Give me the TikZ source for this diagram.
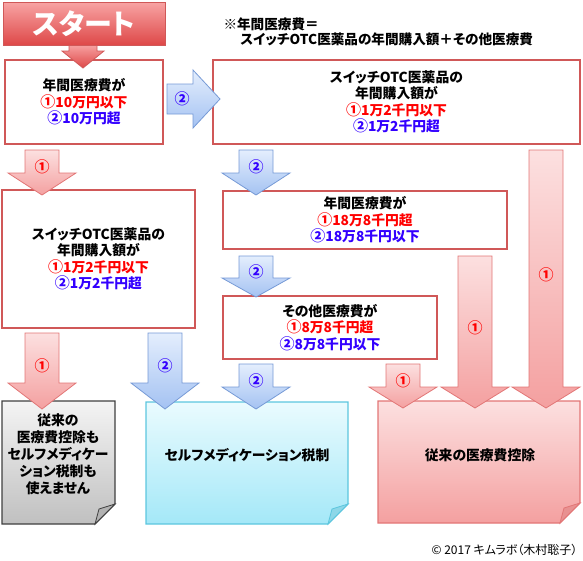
\documentclass[tikz,border=0pt]{standalone}
\usepackage{fontspec}
\setmainfont{Noto Sans CJK JP}[RawFeature=+palt]
\usepackage{tikz}
\usepackage{xcolor}
\definecolor{boxred}{RGB}{208,88,88}
\definecolor{txtred}{RGB}{255,0,0}
\definecolor{txtblue}{RGB}{51,0,255}
\definecolor{pinktop}{RGB}{252,224,224}
\definecolor{pinkbot}{RGB}{244,160,160}
\definecolor{pinkline}{RGB}{226,118,118}
\definecolor{bluetop}{RGB}{228,238,253}
\definecolor{bluebot}{RGB}{164,194,242}
\definecolor{blueline}{RGB}{118,154,214}
\definecolor{starttop}{RGB}{248,164,164}
\definecolor{startbot}{RGB}{222,72,72}
\definecolor{cyantop}{RGB}{234,251,254}
\definecolor{cyanbot}{RGB}{164,232,248}
\definecolor{cyanline}{RGB}{92,198,222}
\definecolor{greytop}{RGB}{244,244,244}
\definecolor{greybot}{RGB}{192,192,192}
\tikzset{%
    qbox/.style={%
        draw=boxred, line width=1.6pt, fill=white, align=center,
        font=\fontsize{13.8}{16.5}\selectfont\bfseries
    },
    pinkarr/.style={draw=pinkline, line width=0.8pt, top color=pinktop, bottom color=pinkbot},
    bluearr/.style={draw=blueline, line width=0.8pt, top color=bluetop, bottom color=bluebot},
    num/.style={font=\fontsize{15}{16}\selectfont\bfseries},
    notetext/.style={align=center, font=\fontsize{13.8}{17}\selectfont\bfseries}
}
% bigger circled number
\newcommand{\maru}[1]{{\fontsize{15}{16}\selectfont #1}}
% down block arrow: style, x, top, head, tip
\newcommand{\dnarrow}[5]{%
    \draw[#1] (#2-17,#3) -- (#2+17,#3) -- (#2+17,#4) -- (#2+34,#4) -- (#2,#5)
        -- (#2-34,#4) -- (#2-17,#4) -- cycle;
}
% note with folded corner: style, fold style, x1, y1, x2, y2
\newcommand{\stickynote}[6]{%
    \draw[#1] (#3,#4) -- (#5,#4) -- (#5,#6-20) -- (#5-20,#6) -- (#3,#6) -- cycle;
    \draw[#2] (#5-20,#6) -- (#5-16,#6-15) -- (#5,#6-20) -- cycle;
}

\begin{document}
\begin{tikzpicture}[x=1pt, y=-1pt]
    \useasboundingbox (0,0) rectangle (583,560);

    % question boxes
    \node[qbox, minimum width=158pt, minimum height=84pt] (q1) at (84,102)
        {年間医療費が\\{\color{txtred}\maru{①}10万円以下}\\{\color{txtblue}\maru{②}10万円超}};
    \node[qbox, minimum width=367pt, minimum height=84pt] (q2) at (396.5,102)
        {スイッチOTC医薬品の\\年間購入額が\\{\color{txtred}\maru{①}1万2千円以下}\\{\color{txtblue}\maru{②}1万2千円超}};
    \node[qbox, minimum width=193pt, minimum height=138pt] (q3) at (98.5,259)
        {スイッチOTC医薬品の\\年間購入額が\\{\color{txtred}\maru{①}1万2千円以下}\\{\color{txtblue}\maru{②}1万2千円超}};
    \node[qbox, minimum width=284pt, minimum height=58pt] (q4) at (365,220)
        {年間医療費が\\{\color{txtred}\maru{①}18万8千円超}\\{\color{txtblue}\maru{②}18万8千円以下}};
    \node[qbox, minimum width=214pt, minimum height=63pt] (q5) at (330,327.5)
        {その他医療費が\\{\color{txtred}\maru{①}8万8千円超}\\{\color{txtblue}\maru{②}8万8千円以下}};

    % start banner
    \draw[draw=boxred, line width=0.8pt, top color=starttop, bottom color=startbot]
        (69,44) -- (97,44) -- (97,51) -- (104,51) -- (83,68) -- (62,51) -- (69,51) -- cycle;
    \draw[draw=boxred, line width=0.8pt, top color=starttop, bottom color=startbot]
        (3,2) rectangle (165,45);
    \node[text=white, font=\fontsize{28}{28}\selectfont\bfseries] (start) at (84,23.5) {スタート};

    % note
    \node[align=left, anchor=north west, font=\fontsize{13.6}{15}\selectfont\bfseries] (memo) at (220,14)
        {※年間医療費＝\\\hspace*{17pt}スイッチOTC医薬品の年間購入額＋その他医療費};

    % results
    \stickynote{draw=black!75, line width=1.1pt, top color=greytop, bottom color=greybot}
        {fill=black!30, draw=black!75, line width=0.8pt}{2}{401}{115}{524}
    \stickynote{draw=cyanline, line width=1.1pt, top color=cyantop, bottom color=cyanbot}
        {fill=cyanline!70, draw=cyanline, line width=0.8pt}{146}{402}{348}{524}
    \stickynote{draw=pinkline, line width=1.1pt, top color=pinktop, bottom color=pinkbot}
        {fill=pinkline!80, draw=pinkline, line width=0.8pt}{378}{401}{580}{523}
    \node[notetext] (r1) at (58,454) {従来の\\医療費控除も\\セルフメディケー\\ション税制も\\使えません};
    \node[notetext] (r2) at (247,455) {セルフメディケーション税制};
    \node[notetext] (r3) at (480,455) {従来の医療費控除};

    % arrows
    \draw[bluearr] (167,84) -- (193,84) -- (193,70) -- (220,99) -- (193,128) -- (193,114) -- (167,114) -- cycle;
    \node[num, text=txtblue] (a0) at (182,99) {②};
    \dnarrow{pinkarr}{42}{150}{173}{195}
    \node[num, text=txtred] (a1) at (42,167) {①};
    \dnarrow{bluearr}{256}{150}{173}{195}
    \node[num, text=txtblue] (a2) at (256,167) {②};
    \dnarrow{bluearr}{256}{256}{278}{297}
    \node[num, text=txtblue] (a3) at (256,272) {②};
    \dnarrow{pinkarr}{42}{333}{383}{409}
    \node[num, text=txtred] (a4) at (42,366) {①};
    \dnarrow{bluearr}{165}{333}{383}{409}
    \node[num, text=txtblue] (a5) at (165,366) {②};
    \dnarrow{bluearr}{256}{364}{387}{409}
    \node[num, text=txtblue] (a6) at (256,381) {②};
    \dnarrow{pinkarr}{403}{364}{387}{408}
    \node[num, text=txtred] (a7) at (403,381) {①};
    \dnarrow{pinkarr}{475}{256}{387}{408}
    \node[num, text=txtred] (a8) at (475,328) {①};
    \dnarrow{pinkarr}{546}{150}{387}{408}
    \node[num, text=txtred] (a9) at (546,275) {①};

    \node[anchor=east, font=\fontsize{12}{12}\selectfont] (copy) at (581,550) {© 2017 キムラボ（木村聡子）};
\end{tikzpicture}
\end{document}
